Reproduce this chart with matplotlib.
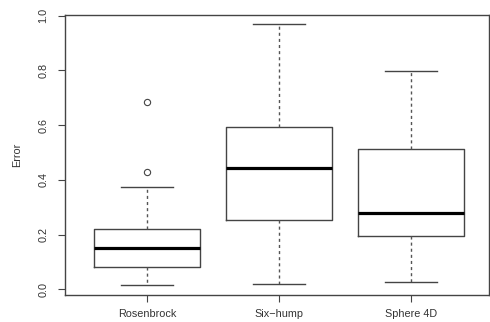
import matplotlib
matplotlib.use("Agg")
import matplotlib.pyplot as plt

categories = ["Rosenbrock", "Six\u2212hump", "Sphere 4D"]
whisker_lo = [0.016, 0.019, 0.028]
q1 = [0.083, 0.254, 0.194]
medians = [0.150, 0.444, 0.280]
q3 = [0.219, 0.592, 0.512]
whisker_hi = [0.374, 0.969, 0.799]
outliers = [[0.429, 0.686], [], []]
yticks = [0.0, 0.2, 0.4, 0.6, 0.8, 1.0]

plt.rcParams['font.family'] = ['Liberation Sans', 'DejaVu Sans']

fig = plt.figure(figsize=(4.9, 3.22), dpi=100)
ax = fig.add_axes([65/490, 1-295/322, (489-65)/490, (295-14.7)/322])

stats = []
for i, c in enumerate(categories):
    stats.append(dict(label=c, whislo=whisker_lo[i], q1=q1[i], med=medians[i],
                      q3=q3[i], whishi=whisker_hi[i], fliers=outliers[i]))

lc = '#444444'
ax.bxp(stats, positions=[1, 2, 3], widths=0.8, capwidths=0.4,
       boxprops=dict(color=lc, linewidth=1.0),
       whiskerprops=dict(color='#555555', linewidth=1.0, linestyle=(0, (2.2, 2.2))),
       capprops=dict(color=lc, linewidth=1.0),
       medianprops=dict(color='black', linewidth=2.3, solid_capstyle='butt'),
       flierprops=dict(marker='o', markersize=4.5, markerfacecolor='none',
                       markeredgecolor=lc, markeredgewidth=0.8))

ax.set_xlim(0.379, 3.591)
ax.set_ylim(-0.021, 1.004)
ax.set_yticks(yticks)
ax.set_yticklabels([f"{v:.1f}" for v in yticks], rotation=90, va='center')
ax.set_xticks([1, 2, 3])
ax.set_xticklabels(categories)
ax.tick_params(axis='both', direction='out', length=5, width=0.8, colors=lc,
               labelsize=7.8, labelcolor='#333333')
ax.tick_params(axis='y', pad=7)
ax.tick_params(axis='x', pad=5)
for s in ax.spines.values():
    s.set_color(lc)
    s.set_linewidth(1.0)
ax.set_ylabel("Error", fontsize=7.8, color='#333333', labelpad=12)

fig.savefig("out.png", dpi=100)
